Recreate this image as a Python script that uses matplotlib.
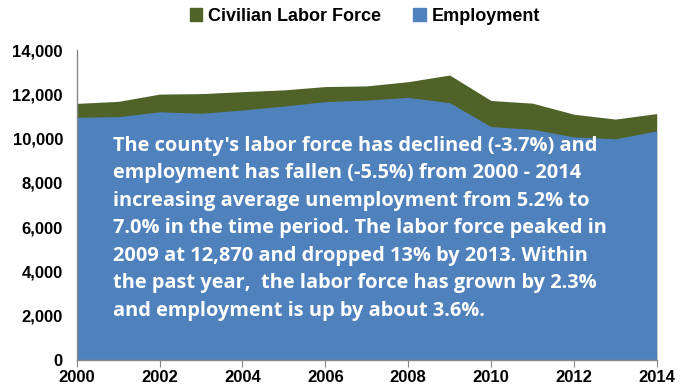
import matplotlib.pyplot as plt
from matplotlib.patches import Patch

years = list(range(2000, 2015))
labor_force = [11590, 11680, 12010, 12030, 12120, 12200, 12350, 12380,
               12570, 12870, 11720, 11600, 11100, 10880, 11130]
employment = [10960, 10990, 11210, 11140, 11290, 11470, 11670, 11740,
              11860, 11620, 10540, 10420, 10080, 9990, 10350]

note = ("The county's labor force has declined (-3.7%) and\n"
        "employment has fallen (-5.5%) from 2000 - 2014\n"
        "increasing average unemployment from 5.2% to\n"
        "7.0% in the time period. The labor force peaked in\n"
        "2009 at 12,870 and dropped 13% by 2013. Within\n"
        "the past year,  the labor force has grown by 2.3%\n"
        "and employment is up by about 3.6%.")

green = '#4F6228'
blue = '#4F81BD'

plt.rcParams['font.family'] = ['Liberation Sans Narrow', 'Liberation Sans', 'DejaVu Sans']

fig = plt.figure(figsize=(6.92, 3.92), dpi=100)
ax = fig.add_axes([0.111, 0.0816, 0.838, 0.7908])

ax.fill_between(years, labor_force, color=green, lw=0)
ax.fill_between(years, employment, color=blue, lw=0)

ax.set_xlim(2000, 2014)
ax.set_ylim(0, 14000)
ax.set_xticks(range(2000, 2015, 2))
ax.set_yticks(range(0, 14001, 2000))
ax.set_yticklabels(['{:,}'.format(v) for v in range(0, 14001, 2000)])
for lab in ax.get_xticklabels() + ax.get_yticklabels():
    lab.set_fontweight('bold')
    lab.set_fontsize(12)
ax.tick_params(axis='y', length=0, pad=10)
ax.tick_params(axis='x', length=5, color='#888888', pad=2)
for s in ['top', 'right']:
    ax.spines[s].set_visible(False)
for s in ['left', 'bottom']:
    ax.spines[s].set_color('#888888')
    ax.spines[s].set_linewidth(1)

handles = [Patch(color=green, label='Civilian Labor Force'),
           Patch(color=blue, label='Employment')]
fig.legend(handles=handles, loc='center', bbox_to_anchor=(0.527, 0.958), ncol=2,
           frameon=False, prop={'weight': 'bold', 'size': 13},
           handlelength=0.7, handleheight=0.7, handletextpad=0.3, columnspacing=1.8)

ax.text(2000.87, 5960, note, color='white', fontsize=14.4, fontweight='bold',
        family=['Open Sans', 'DejaVu Sans'], va='center', ha='left', linespacing=1.5)

fig.savefig('out.png', dpi=100)
